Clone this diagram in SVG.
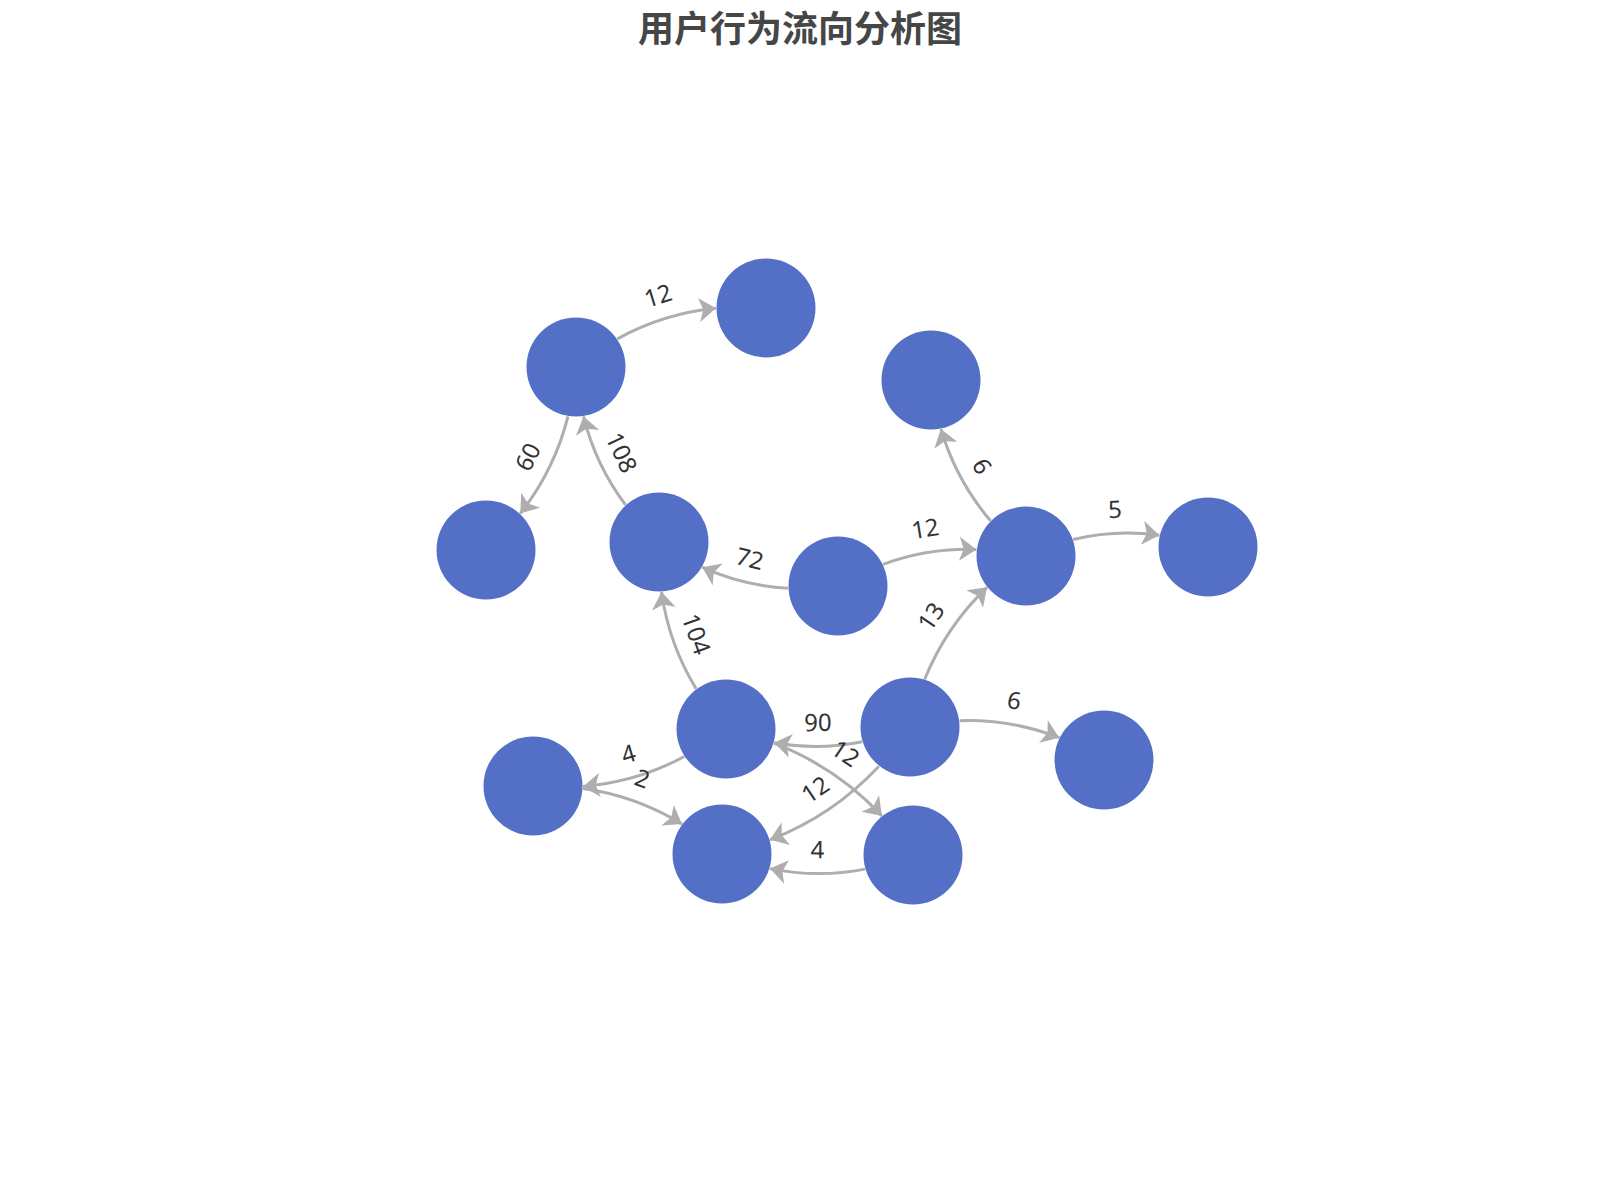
<svg xmlns="http://www.w3.org/2000/svg" width="1600" height="1200" viewBox="0 0 1600 1200">
  <style>
    .title { font-family: "Noto Sans CJK SC", "Noto Sans", sans-serif; font-size: 36px; font-weight: bold; fill: #464646; }
    .edge { fill: none; stroke: #aeaeae; stroke-width: 3; marker-end: url(#arrow); }
    .node { fill: #5470c6; }
    .lbl { font-family: "Noto Sans", "Open Sans", sans-serif; font-size: 24px; fill: #333333; text-anchor: middle; }
  </style>
  <defs>
    <marker id="arrow" markerUnits="userSpaceOnUse" orient="auto" viewBox="-18 -13 19 26" markerWidth="19" markerHeight="26" refX="0" refY="0" overflow="visible">
      <path d="M0,0 L-17,-12 L-12.75,0 L-17,12 Z" fill="#aeaeae"/>
    </marker>
  </defs>
  <rect width="1600" height="1200" fill="#ffffff"/>
  <text class="title" x="800" y="42" text-anchor="middle">用户行为流向分析图</text>

  <g id="connectors">
    <path class="edge" d="M617.4,338.9 Q663.5,313.4 716.0,308.3"/>
    <path class="edge" d="M568.0,416.4 Q554.5,470.0 520.2,513.6"/>
    <path class="edge" d="M625.5,504.9 Q595.5,464.9 583.5,416.4"/>
    <path class="edge" d="M788.1,588.3 Q743.1,586.0 702.2,567.2"/>
    <path class="edge" d="M883.0,564.3 Q928.3,547.6 976.4,549.4"/>
    <path class="edge" d="M990.5,520.8 Q956.1,480.1 940.9,429.0"/>
    <path class="edge" d="M1073.2,539.5 Q1115.9,529.2 1159.4,535.3"/>
    <path class="edge" d="M924.7,679.2 Q946.0,626.5 987.0,587.3"/>
    <path class="edge" d="M696.2,688.9 Q668.8,644.0 661.5,591.9"/>
    <path class="edge" d="M862.2,741.7 Q818.3,750.6 774.1,742.7"/>
    <path class="edge" d="M959.6,720.7 Q1011.2,719.0 1059.3,737.7"/>
    <path class="edge" d="M684.3,756.5 Q636.8,782.1 583.0,786.4"/>
    <path class="edge" d="M582.9,788.5 Q636.2,795.9 682.0,824.1"/>
    <path class="edge" d="M865.0,869.1 Q817.4,878.3 769.9,868.6"/>
    <path class="edge" d="M878.9,766.2 Q833.0,815.6 769.9,839.8"/>
    <path class="edge" d="M773.9,743.2 Q836.3,767.1 881.9,815.9"/>

    <text class="lbl" transform="translate(658.0,295.6) rotate(-17.25)" y="8.6">12</text>
    <text class="lbl" transform="translate(527.8,456.9) rotate(-63.8)" y="8.6">60</text>
    <text class="lbl" transform="translate(621.7,452.5) rotate(64.6)" y="8.6">108</text>
    <text class="lbl" transform="translate(749.8,558.6) rotate(13.8)" y="8.6">72</text>
    <text class="lbl" transform="translate(925.2,528.5) rotate(-9.07)" y="8.6">12</text>
    <text class="lbl" transform="translate(982.0,466.1) rotate(61.6)" y="8.6">6</text>
    <text class="lbl" transform="translate(1114.9,509.3) rotate(-2.83)" y="8.6">5</text>
    <text class="lbl" transform="translate(931.0,616.4) rotate(-55.85)" y="8.6">13</text>
    <text class="lbl" transform="translate(696.4,634.1) rotate(70.3)" y="8.6">104</text>
    <text class="lbl" transform="translate(818.0,722.4) rotate(-0.62)" y="8.6">90</text>
    <text class="lbl" transform="translate(1014.3,700.4) rotate(9.65)" y="8.6">6</text>
    <text class="lbl" transform="translate(628.4,753.8) rotate(-16.45)" y="8.6">4</text>
    <text class="lbl" transform="translate(642.4,778.5) rotate(19.8)" y="8.6">2</text>
    <text class="lbl" transform="translate(817.5,849.6) rotate(0.3)" y="8.6">4</text>
    <text class="lbl" transform="translate(815.3,789.4) rotate(-34.04)" y="8.6">12</text>
    <text class="lbl" transform="translate(845.5,753.4) rotate(33.97)" y="8.6">12</text>
  </g>

  <g id="node-a"><circle class="node" cx="576" cy="367" r="49.5"/></g>
  <g id="node-b"><circle class="node" cx="766" cy="308" r="49.5"/></g>
  <g id="node-c"><circle class="node" cx="486" cy="550" r="49.5"/></g>
  <g id="node-d"><circle class="node" cx="659" cy="542" r="49.5"/></g>
  <g id="node-h"><circle class="node" cx="838" cy="586" r="49.5"/></g>
  <g id="node-e"><circle class="node" cx="931" cy="380" r="49.5"/></g>
  <g id="node-f"><circle class="node" cx="1026" cy="556" r="49.5"/></g>
  <g id="node-g"><circle class="node" cx="1208" cy="547" r="49.5"/></g>
  <g id="node-j"><circle class="node" cx="726" cy="729" r="49.5"/></g>
  <g id="node-k"><circle class="node" cx="910" cy="727" r="49.5"/></g>
  <g id="node-i"><circle class="node" cx="1104" cy="760" r="49.5"/></g>
  <g id="node-l"><circle class="node" cx="533" cy="786" r="49.5"/></g>
  <g id="node-m"><circle class="node" cx="722" cy="854" r="49.5"/></g>
  <g id="node-n"><circle class="node" cx="913" cy="855" r="49.5"/></g>
</svg>
